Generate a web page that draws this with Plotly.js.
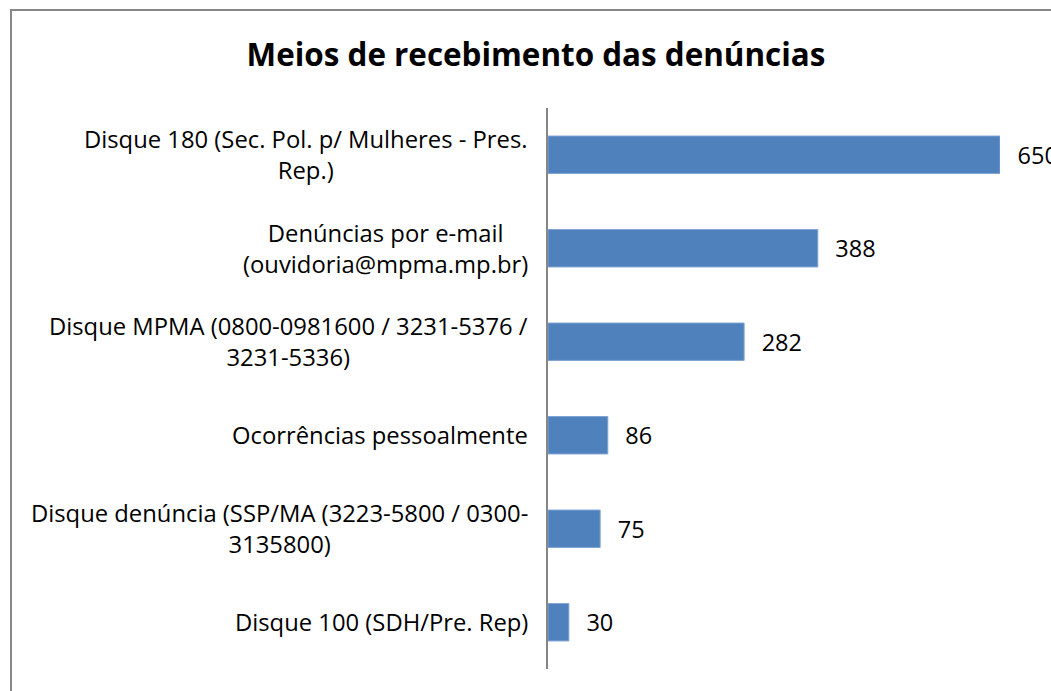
<!DOCTYPE html>
<html>
<head>
<meta charset="utf-8">
<script src="https://cdn.plot.ly/plotly-3.0.1.min.js"></script>
<style>
html,body{margin:0;padding:0;background:#fff;}
#chart{width:1051px;height:691px;position:relative;}
#frame{position:absolute;left:10px;top:9px;width:1100px;height:800px;border:2px solid #888;box-sizing:border-box;pointer-events:none;}
</style>
</head>
<body>
<div id="chart"></div>
<div id="frame"></div>
<script>
const categories = [
  "Disque 180 (Sec. Pol. p/ Mulheres - Pres.<br>Rep.)",
  "Denúncias por e-mail<br>(ouvidoria@mpma.mp.br)",
  "Disque MPMA (0800-0981600 / 3231-5376 /<br>3231-5336)",
  "Ocorrências pessoalmente",
  "Disque denúncia (SSP/MA (3223-5800 / 0300-<br>3135800)",
  "Disque 100 (SDH/Pre. Rep)"
];
const values = [650, 388, 282, 86, 75, 30];
const titleText = "Meios de recebimento das denúncias";

const FONT = "'Open Sans', Lato, sans-serif";
const ids = categories.map((c, i) => "c" + i);

const trace = {
  type: "bar",
  orientation: "h",
  x: values,
  y: ids,
  marker: {color: "#4F81BD", line: {color: "#7FA3D3", width: 1}},
  text: values.map(v => "\u00a0\u00a0\u200a" + v),
  textposition: "outside",
  textfont: {family: FONT, size: 23.5, color: "#000"},
  cliponaxis: false,
  hoverinfo: "none"
};

const annotations = categories.map((c, i) => ({
  xref: "paper", yref: "y",
  x: 0, y: ids[i],
  xanchor: "right", yanchor: "middle",
  xshift: -18,
  text: c,
  align: "center",
  showarrow: false,
  font: {family: FONT, size: 23.8, color: "#000"}
}));

const layout = {
  width: 1051, height: 691,
  margin: {l: 548, r: 51, t: 108, b: 22, pad: 0},
  paper_bgcolor: "#fff", plot_bgcolor: "#fff",
  title: {text: "<b>" + titleText + "</b>", x: 0.51, xanchor: "center", y: 0.92, yanchor: "middle",
          font: {family: FONT, size: 31.4, color: "#000"}},
  xaxis: {range: [0, 650], showgrid: false, zeroline: false, showline: false, showticklabels: false, ticks: "", fixedrange: true},
  yaxis: {autorange: "reversed", showgrid: false, zeroline: false, showline: true, linecolor: "#868686", linewidth: 2,
          showticklabels: false, ticks: "", fixedrange: true},
  bargap: 0.6,
  showlegend: false,
  annotations: annotations
};

Plotly.newPlot("chart", [trace], layout, {displayModeBar: false, staticPlot: true});
</script>
</body>
</html>
